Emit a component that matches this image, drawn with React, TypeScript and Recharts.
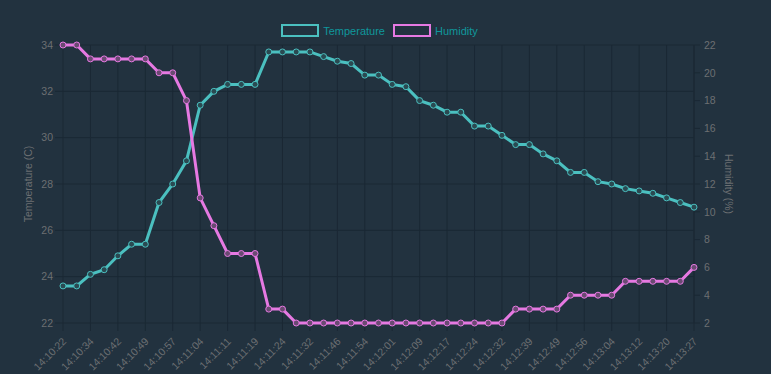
import React from "react";
import {
  LineChart,
  Line,
  XAxis,
  YAxis,
  CartesianGrid,
  Legend,
} from "recharts";

const times = [
  "14:10:22", "14:10:28", "14:10:34", "14:10:38", "14:10:42", "14:10:45",
  "14:10:49", "14:10:53", "14:10:57", "14:11:00", "14:11:04", "14:11:08",
  "14:11:11", "14:11:15", "14:11:19", "14:11:22", "14:11:24", "14:11:28",
  "14:11:32", "14:11:39", "14:11:46", "14:11:50", "14:11:54", "14:11:58",
  "14:12:01", "14:12:05", "14:12:09", "14:12:13", "14:12:17", "14:12:20",
  "14:12:24", "14:12:28", "14:12:32", "14:12:36", "14:12:39", "14:12:44",
  "14:12:49", "14:12:52", "14:12:56", "14:13:00", "14:13:04", "14:13:08",
  "14:13:12", "14:13:16", "14:13:20", "14:13:24", "14:13:27",
];

const temperature = [
  23.6, 23.6, 24.1, 24.3, 24.9, 25.4, 25.4, 27.2, 28.0, 29.0, 31.4, 32.0,
  32.3, 32.3, 32.3, 33.7, 33.7, 33.7, 33.7, 33.5, 33.3, 33.2, 32.7, 32.7,
  32.3, 32.2, 31.6, 31.4, 31.1, 31.1, 30.5, 30.5, 30.1, 29.7, 29.7, 29.3,
  29.0, 28.5, 28.5, 28.1, 28.0, 27.8, 27.7, 27.6, 27.4, 27.2, 27.0,
];

const humidity = [
  22, 22, 21, 21, 21, 21, 21, 20, 20, 18, 11, 9, 7, 7, 7, 3, 3, 2, 2, 2, 2, 2,
  2, 2, 2, 2, 2, 2, 2, 2, 2, 2, 2, 3, 3, 3, 3, 4, 4, 4, 4, 5, 5, 5, 5, 5, 6,
];

const xTickLabels = times.filter((_, i) => i % 2 === 0);
const tempTicks = [22, 24, 26, 28, 30, 32, 34];
const humTicks = [2, 4, 6, 8, 10, 12, 14, 16, 18, 20, 22];

const data = times.map((t, i) => ({
  time: t,
  temperature: temperature[i],
  humidity: humidity[i],
}));

const BG = "#22323f";
const GRID = "#1a2834";
const TICK = "#6c6f72";
const TEAL = "#4bc0c0";
const VIOLET = "#e679e2";
const LEGEND_TEXT = "#0f979c";
const FONT = "'Liberation Sans', Arial, Helvetica, sans-serif";
const FS = 10.5;

const series = [
  { key: "temperature", name: "Temperature", color: TEAL },
  { key: "humidity", name: "Humidity", color: VIOLET },
];

const XTick = (props: any) => {
  const { x, y, payload } = props;
  return (
    <text
      x={x + 4}
      y={y + 9}
      transform={`rotate(-45, ${x + 4}, ${y + 9})`}
      textAnchor="end"
      fill={TICK}
      fontSize={FS}
      fontFamily={FONT}
    >
      {payload.value}
    </text>
  );
};

const LegendContent = () => (
  <div
    style={{
      display: "flex",
      justifyContent: "center",
      alignItems: "center",
      fontFamily: FONT,
      fontSize: 11,
      paddingRight: 4,
    }}
  >
    {series.map((s) => (
      <div
        key={s.key}
        style={{ display: "flex", alignItems: "center", marginRight: 8 }}
      >
        <div
          style={{
            width: 38,
            height: 13,
            boxSizing: "border-box",
            border: `2.5px solid ${s.color}`,
            background: BG,
            marginRight: 4,
          }}
        />
        <span style={{ color: LEGEND_TEXT }}>{s.name}</span>
      </div>
    ))}
  </div>
);

const LeftTitle = (props: any) => {
  const { viewBox } = props;
  const cx = viewBox.x + 28;
  const cy = viewBox.y + viewBox.height / 2;
  return (
    <text
      x={cx}
      y={cy}
      transform={`rotate(-90, ${cx}, ${cy})`}
      textAnchor="middle"
      dominantBaseline="central"
      fill={TICK}
      fontSize={FS}
      fontFamily={FONT}
    >
      Temperature (C)
    </text>
  );
};

const RightTitle = (props: any) => {
  const { viewBox } = props;
  const cx = viewBox.x + 35;
  const cy = viewBox.y + viewBox.height / 2;
  return (
    <text
      x={cx}
      y={cy}
      transform={`rotate(90, ${cx}, ${cy})`}
      textAnchor="middle"
      dominantBaseline="central"
      fill={TICK}
      fontSize={FS}
      fontFamily={FONT}
    >
      Humidity (%)
    </text>
  );
};

export default function App() {
  return (
    <div
      style={{
        position: "absolute",
        left: 0,
        top: 0,
        width: 771,
        height: 374,
        background: BG,
        fontFamily: FONT,
      }}
    >
      <LineChart
        width={771}
        height={374}
        data={data}
        margin={{ top: 45, right: 0, bottom: 0, left: 0 }}
      >
        <CartesianGrid stroke={GRID} strokeWidth={1} />
        <XAxis
          dataKey="time"
          ticks={xTickLabels}
          interval={0}
          height={51}
          tickSize={8}
          tickLine={{ stroke: GRID }}
          axisLine={false}
          tick={<XTick />}
        />
        <YAxis
          yAxisId={0}
          orientation="left"
          width={63}
          domain={[22, 34]}
          ticks={tempTicks}
          interval={0}
          tickSize={8}
          tickMargin={2}
          tickLine={{ stroke: GRID }}
          axisLine={false}
          tick={{ fill: TICK, fontSize: FS, fontFamily: FONT }}
          label={<LeftTitle />}
        />
        <YAxis
          yAxisId="right"
          orientation="right"
          width={77}
          domain={[2, 22]}
          ticks={humTicks}
          interval={0}
          tickSize={6}
          tickMargin={4}
          tickLine={{ stroke: GRID }}
          axisLine={{ stroke: GRID }}
          tick={{ fill: TICK, fontSize: FS, fontFamily: FONT }}
          label={<RightTitle />}
        />
        <Legend
          verticalAlign="middle"
          align="center"
          layout="horizontal"
          wrapperStyle={{ top: 24, left: 0, width: 771 }}
          content={<LegendContent />}
        />
        <Line
          yAxisId={0}
          type="linear"
          dataKey="temperature"
          name="Temperature"
          stroke={TEAL}
          strokeWidth={3}
          dot={{ r: 3, stroke: TEAL, strokeWidth: 1, fill: "#2a4a52" }}
          activeDot={false}
          isAnimationActive={false}
        />
        <Line
          yAxisId="right"
          type="linear"
          dataKey="humidity"
          name="Humidity"
          stroke={VIOLET}
          strokeWidth={3}
          dot={{ r: 3, stroke: VIOLET, strokeWidth: 1, fill: "#6a4a72" }}
          activeDot={false}
          isAnimationActive={false}
        />
      </LineChart>
    </div>
  );
}
